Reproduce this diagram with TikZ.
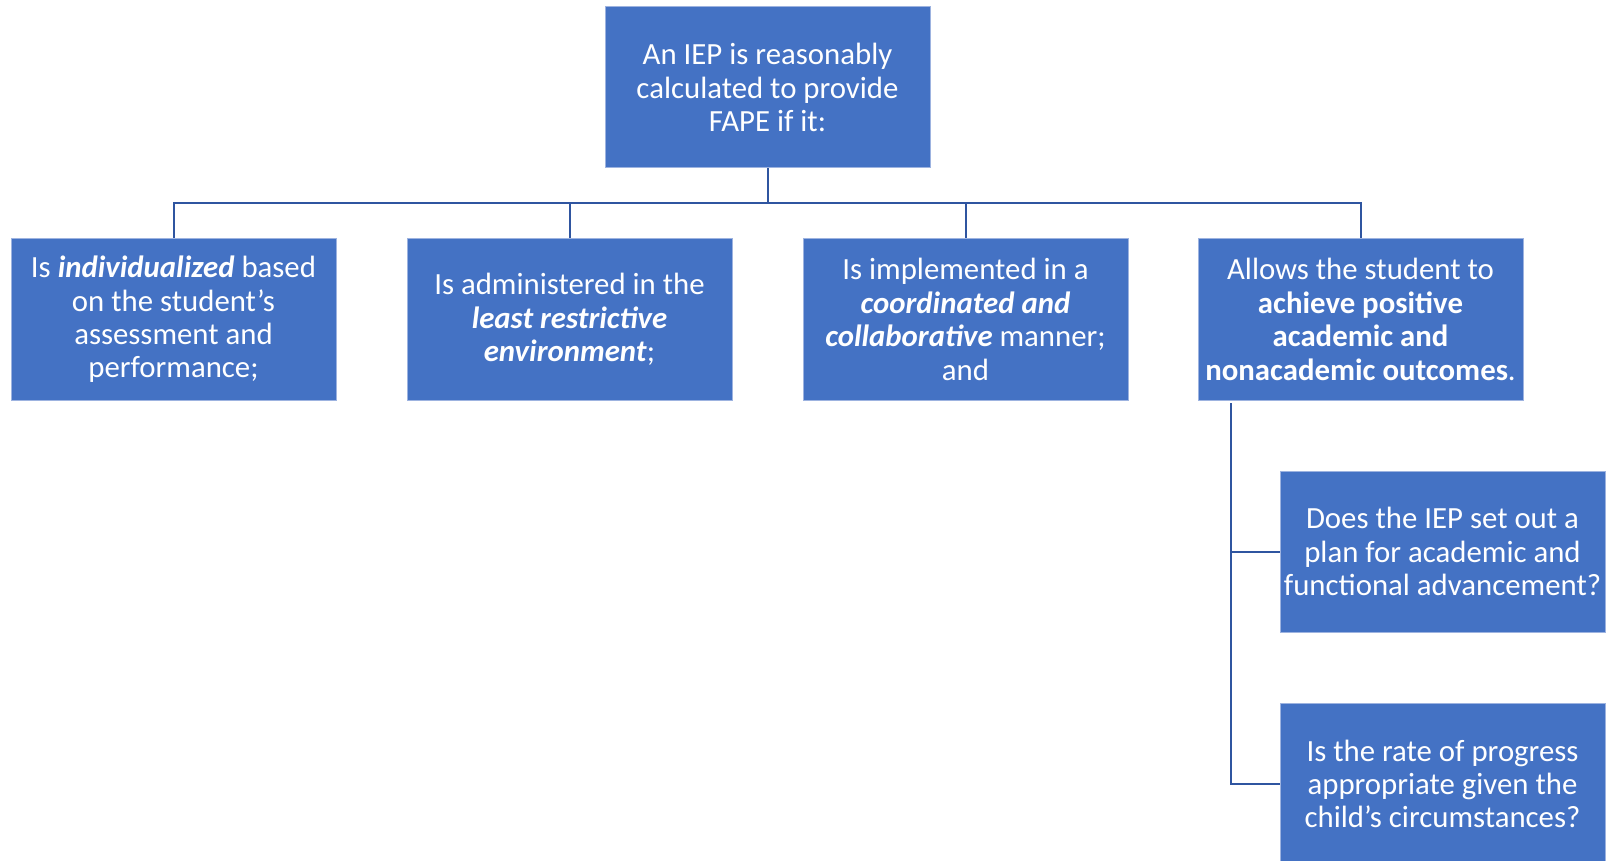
\documentclass[tikz,border=0pt]{standalone}
\usepackage{fontspec}
\setmainfont{Carlito}
\definecolor{boxfill}{HTML}{4472C4}
\definecolor{boxline}{HTML}{9DB3E0}
\definecolor{connline}{HTML}{2F55A0}
\begin{document}
\begin{tikzpicture}[x=0.5pt,y=-0.5pt,
  box/.style={rectangle, fill=boxfill, draw=boxline, line width=0.5pt,
    minimum width=162.5pt, minimum height=80.5pt, inner sep=0pt,
    text=white, align=center, font=\fontsize{15.4}{16.7}\selectfont},
  conn/.style={draw=connline, line width=1pt}]
\useasboundingbox (0,0) rectangle (1606,861);
\fill[white] (0,0) rectangle (1606,861);

\node[box] (top) at (767.5,87.5) {An IEP is reasonably\\calculated to provide\\FAPE if it:};

\node[box] (c1) at (173.5,319.5) {Is \textbf{\textit{individualized}} based\\on the student’s\\assessment and\\performance;};
\node[box] (c2) at (569.5,319.5) {Is administered in the\\\textbf{\textit{least restrictive}}\\\textbf{\textit{environment}};};
\node[box] (c3) at (965.5,319.5) {Is implemented in a\\\textbf{\textit{coordinated and}}\\\textbf{\textit{collaborative}} manner;\\and};
\node[box] (c4) at (1360.5,319.5) {Allows the student to\\\textbf{achieve positive}\\\textbf{academic and}\\\textbf{nonacademic outcomes}.};

\node[box] (s1) at (1442.5,551.5) {Does the IEP set out a\\plan for academic and\\functional advancement?};
\node[box] (s2) at (1442.5,784) {Is the rate of progress\\appropriate given the\\child’s circumstances?};

\coordinate (bus) at (767.5,203);
\draw[conn] (top.south) -- (bus);
\draw[conn] (bus) -| (c1.north);
\draw[conn] (bus) -| (c2.north);
\draw[conn] (bus) -| (c3.north);
\draw[conn] (bus) -| (c4.north);

\coordinate (vtop) at (1231,403);
\draw[conn] (vtop) |- (s1.west);
\draw[conn] (vtop) |- (s2.west);
\end{tikzpicture}
\end{document}
